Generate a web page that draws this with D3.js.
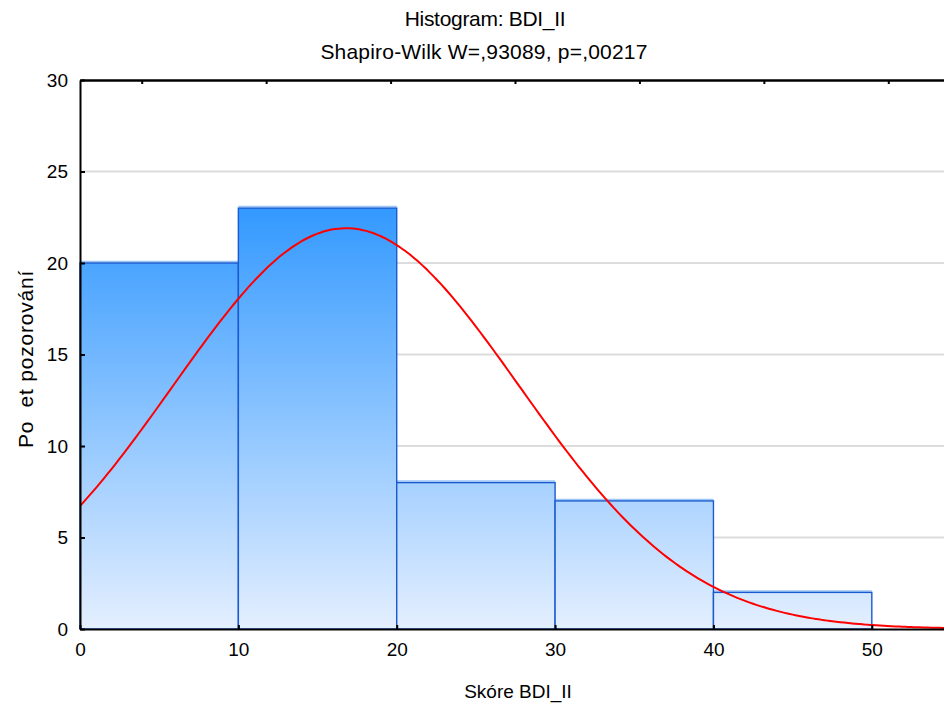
<!DOCTYPE html>
<html>
<head>
<meta charset="utf-8">
<script src="https://cdn.jsdelivr.net/npm/d3@7"></script>
<style>
  body { margin: 0; background: #fff; }
  svg { display: block; font-family: "Liberation Sans", Arial, sans-serif; }
</style>
</head>
<body>
<script>
// histogram bins (lower edge, upper edge) and counts
const binStarts = [0, 10, 20, 30, 40]
const binEnds = [10, 20, 30, 40, 50]
const counts = [20, 23, 8, 7, 2]
const xTicks = [0, 10, 20, 30, 40, 50]
const yTicks = [0, 5, 10, 15, 20, 25, 30]
const gridValues = [5, 10, 15, 20, 25]
// fitted normal curve parameters
const n = 60
const binWidth = 10
const mean = 16.8
const sd = 10.93
// the top axis has 7 unlabeled ticks
const topCats = ['a', 'b', 'c', 'd', 'e', 'f', 'g']

const width = 944
const height = 706
const plotLeft = 80
const plotRight = 951
const plotTop = 80
const plotBottom = 629

const svg = d3.select('body').append('svg').attr('width', width).attr('height', height)

const x = d3.scaleLinear().domain([0, 55]).range([plotLeft, plotRight])
const y = d3.scaleLinear().domain([0, 30]).range([plotBottom, plotTop])
const xTop = d3.scaleBand().domain(topCats).range([plotLeft, plotRight])

const defs = svg.append('defs')
const grad = defs.append('linearGradient').attr('id', 'barGrad')
  .attr('gradientUnits', 'userSpaceOnUse')
  .attr('x1', 0).attr('x2', 0).attr('y1', y(23)).attr('y2', y(0))
grad.append('stop').attr('offset', '0%').attr('stop-color', '#3399ff')
grad.append('stop').attr('offset', '100%').attr('stop-color', '#e4efff')

defs.append('clipPath').attr('id', 'plotClip').append('rect')
  .attr('x', plotLeft).attr('y', plotTop).attr('width', plotRight - plotLeft).attr('height', plotBottom - plotTop)

// grid
svg.append('g').selectAll('line').data(gridValues).enter().append('line')
  .attr('x1', plotLeft).attr('x2', plotRight)
  .attr('y1', d => y(d)).attr('y2', d => y(d))
  .attr('stroke', '#dcdcdc').attr('stroke-width', 2)

// bars
const bins = binStarts.map((s, i) => ({ x0: s, x1: binEnds[i], count: counts[i] }))
const barG = svg.append('g')
// light highlight just above each bar top
barG.selectAll('line').data(bins).enter().append('line')
  .attr('x1', d => x(d.x0)).attr('x2', d => x(d.x1))
  .attr('y1', d => y(d.count) - 1.5).attr('y2', d => y(d.count) - 1.5)
  .attr('stroke', '#9cc6f5').attr('stroke-width', 1.5)
barG.selectAll('rect').data(bins).enter().append('rect')
  .attr('x', d => x(d.x0))
  .attr('y', d => y(d.count))
  .attr('width', d => x(d.x1) - x(d.x0))
  .attr('height', d => y(0) - y(d.count))
  .attr('fill', 'url(#barGrad)')
  .attr('stroke', '#1a5ad0')
  .attr('stroke-width', 1.4)

// normal curve
const normal = v => n * binWidth / (sd * Math.sqrt(2 * Math.PI)) * Math.exp(-((v - mean) ** 2) / (2 * sd * sd))
const curveX = d3.range(0, 55.01, 0.25)
const line = d3.line().x(d => x(d)).y(d => y(normal(d))).curve(d3.curveMonotoneX)
svg.append('path').datum(curveX)
  .attr('clip-path', 'url(#plotClip)')
  .attr('d', line)
  .attr('fill', 'none').attr('stroke', '#ff0000').attr('stroke-width', 2)

// axes
const yAxis = d3.axisLeft(y).tickValues(yTicks).tickSizeInner(-5).tickSizeOuter(0).tickPadding(12)
const gy = svg.append('g').attr('transform', `translate(${plotLeft},0)`).call(yAxis)
gy.selectAll('text').style('font-size', '19px').attr('fill', '#000')
gy.select('.domain').attr('stroke', '#000').attr('stroke-width', 2)
gy.selectAll('.tick line').attr('stroke', '#000').attr('stroke-width', 2)

const xAxis = d3.axisBottom(x).tickValues(xTicks).tickSizeInner(-4).tickSizeOuter(0).tickPadding(14)
const gx = svg.append('g').attr('transform', `translate(0,${plotBottom})`).call(xAxis)
gx.selectAll('text').style('font-size', '19px').attr('fill', '#000')
gx.select('.domain').attr('stroke', '#000').attr('stroke-width', 2)
gx.selectAll('.tick line').attr('stroke', '#000').attr('stroke-width', 2)

const topAxis = d3.axisTop(xTop).tickSizeInner(-4).tickSizeOuter(0).tickFormat('')
const gt = svg.append('g').attr('transform', `translate(0,${plotTop})`).call(topAxis)
gt.select('.domain').attr('stroke', '#000').attr('stroke-width', 2.5)
gt.selectAll('.tick line').attr('stroke', '#000').attr('stroke-width', 2)

// titles
svg.append('text').text('Histogram: BDI_II')
  .attr('x', 485).attr('y', 26).attr('text-anchor', 'middle')
  .style('font-size', '21px').style('letter-spacing', '-0.3px')
svg.append('text').text('Shapiro-Wilk W=,93089, p=,00217')
  .attr('x', 484).attr('y', 59).attr('text-anchor', 'middle')
  .style('font-size', '21px').style('letter-spacing', '0.2px')

svg.append('text').text('Skóre BDI_II')
  .attr('x', 518).attr('y', 698).attr('text-anchor', 'middle')
  .style('font-size', '19px').style('letter-spacing', '0px')

svg.append('text').text('Po  et pozorování')
  .attr('transform', 'translate(33,359) rotate(-90)')
  .attr('text-anchor', 'middle')
  .style('white-space', 'pre')
  .style('font-size', '21px').style('letter-spacing', '0.8px')
</script>
</body>
</html>
